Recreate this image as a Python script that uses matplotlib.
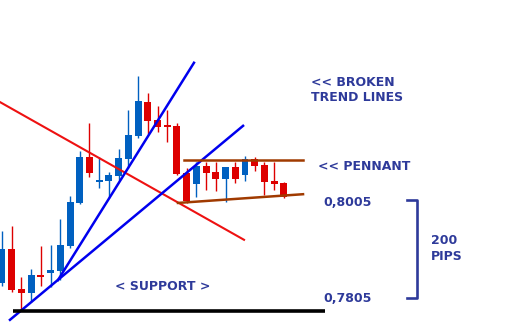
import matplotlib
matplotlib.use("Agg")
import matplotlib.pyplot as plt
import numpy as np

# ---- data (EUR-like pair, price units) ----
opens  = [0.7836, 0.7906, 0.7824, 0.7815, 0.7852, 0.7857, 0.7861, 0.7912, 0.8001, 0.8096,
          0.8044, 0.8046, 0.8057, 0.8092, 0.8139, 0.8209, 0.8172, 0.8162, 0.8160, 0.8063,
          0.8040, 0.8077, 0.8065, 0.8050, 0.8075, 0.8059, 0.8092, 0.8079, 0.8046, 0.8042]
closes = [0.7906, 0.7821, 0.7815, 0.7852, 0.7848, 0.7863, 0.7914, 0.8003, 0.8096, 0.8063,
          0.8048, 0.8059, 0.8094, 0.8141, 0.8211, 0.8170, 0.8158, 0.8158, 0.8061, 0.8005,
          0.8077, 0.8063, 0.8050, 0.8075, 0.8050, 0.8092, 0.8077, 0.8044, 0.8040, 0.8013]
highs  = [0.7943, 0.7953, 0.7848, 0.7865, 0.7912, 0.7914, 0.7968, 0.8015, 0.8108, 0.8166,
          0.8096, 0.8065, 0.8112, 0.8193, 0.8263, 0.8228, 0.8201, 0.8193, 0.8166, 0.8073,
          0.8085, 0.8085, 0.8085, 0.8075, 0.8085, 0.8098, 0.8096, 0.8085, 0.8085, 0.8044]
lows   = [0.7830, 0.7817, 0.7780, 0.7797, 0.7830, 0.7828, 0.7842, 0.7908, 0.7999, 0.8054,
          0.8032, 0.8011, 0.8048, 0.8073, 0.8135, 0.8143, 0.8147, 0.8127, 0.8059, 0.8001,
          0.8013, 0.8028, 0.8026, 0.8003, 0.8042, 0.8046, 0.8067, 0.8017, 0.8028, 0.8011]

# trend lines (candle index, price)
red_line_x = [-0.21, 24.9]
red_line_y = [0.8209, 0.7925]
blue_low_x = [0.82, 24.8]
blue_low_y = [0.7760, 0.8160]
blue_steep_x = [5.76, 19.75]
blue_steep_y = [0.7842, 0.8290]
pennant_top_x = [18.72, 30.97]
pennant_top_y = [0.8090, 0.8090]
pennant_bot_x = [18.1, 30.97]
pennant_bot_y = [0.8001, 0.8019]
support_x = [1.13, 33.23]
support_y = [0.7778, 0.7778]
level_high = 0.8005
level_low = 0.7805

BLUE = "#0060C0"
RED = "#DD0000"
TXT = "#2E3A9A"

W, H = 528, 323
fig = plt.figure(figsize=(W / 100, H / 100), dpi=100)
ax = fig.add_axes([0, 0, 1, 1])
ax.axis("off")
x0, sp = 2.0, 9.72
ax.set_xlim(-x0 / sp, (W - x0) / sp)
ppx = 0.02 / 97
ax.set_ylim(0.8005 - 122 * ppx, 0.8005 + 201 * ppx)

idx = np.arange(len(opens))
for i in idx:
    o, c, h, l = opens[i], closes[i], highs[i], lows[i]
    col = BLUE if c >= o else RED
    ax.plot([i, i], [l, h], color=col, lw=1.0, solid_capstyle="butt", zorder=2)
    lo, hi = min(o, c), max(o, c)
    if hi - lo < 2 * ppx:
        mid = (hi + lo) / 2
        lo, hi = mid - ppx, mid + ppx
    ax.bar(i, hi - lo, bottom=lo, width=0.72, color=col, linewidth=0, zorder=3)

ax.plot(red_line_x, red_line_y, color="#EE1111", lw=1.5, zorder=4)
ax.plot(blue_low_x, blue_low_y, color="#0000EE", lw=1.8, zorder=4)
ax.plot(blue_steep_x, blue_steep_y, color="#0000EE", lw=1.8, zorder=4)
ax.plot(pennant_top_x, pennant_top_y, color="#A03A00", lw=1.8, zorder=4)
ax.plot(pennant_bot_x, pennant_bot_y, color="#A03A00", lw=1.8, zorder=4)
ax.plot(support_x, support_y, color="black", lw=2.6, zorder=4, solid_capstyle="butt")

# bracket 200 pips
bx, bt = 42.7, 41.67
ax.plot([bt, bx, bx, bt], [level_high + 0.0002, level_high + 0.0002, level_low, level_low],
        color=TXT, lw=1.9, zorder=4)

def label(px, py, s):
    fig.text(px / W, 1 - py / H, s, color=TXT, fontsize=9.0, fontweight="bold",
             family="DejaVu Sans", ha="left", va="center")

label(311, 82, "<< BROKEN")
label(311, 97.5, "TREND LINES")
label(318, 166.5, "<< PENNANT")
label(323, 202.5, "0,8005")
label(323, 298, "0,7805")
label(431, 241, "200")
label(431, 256, "PIPS")
label(115, 287, "< SUPPORT >")

fig.savefig("out.png", dpi=100)
